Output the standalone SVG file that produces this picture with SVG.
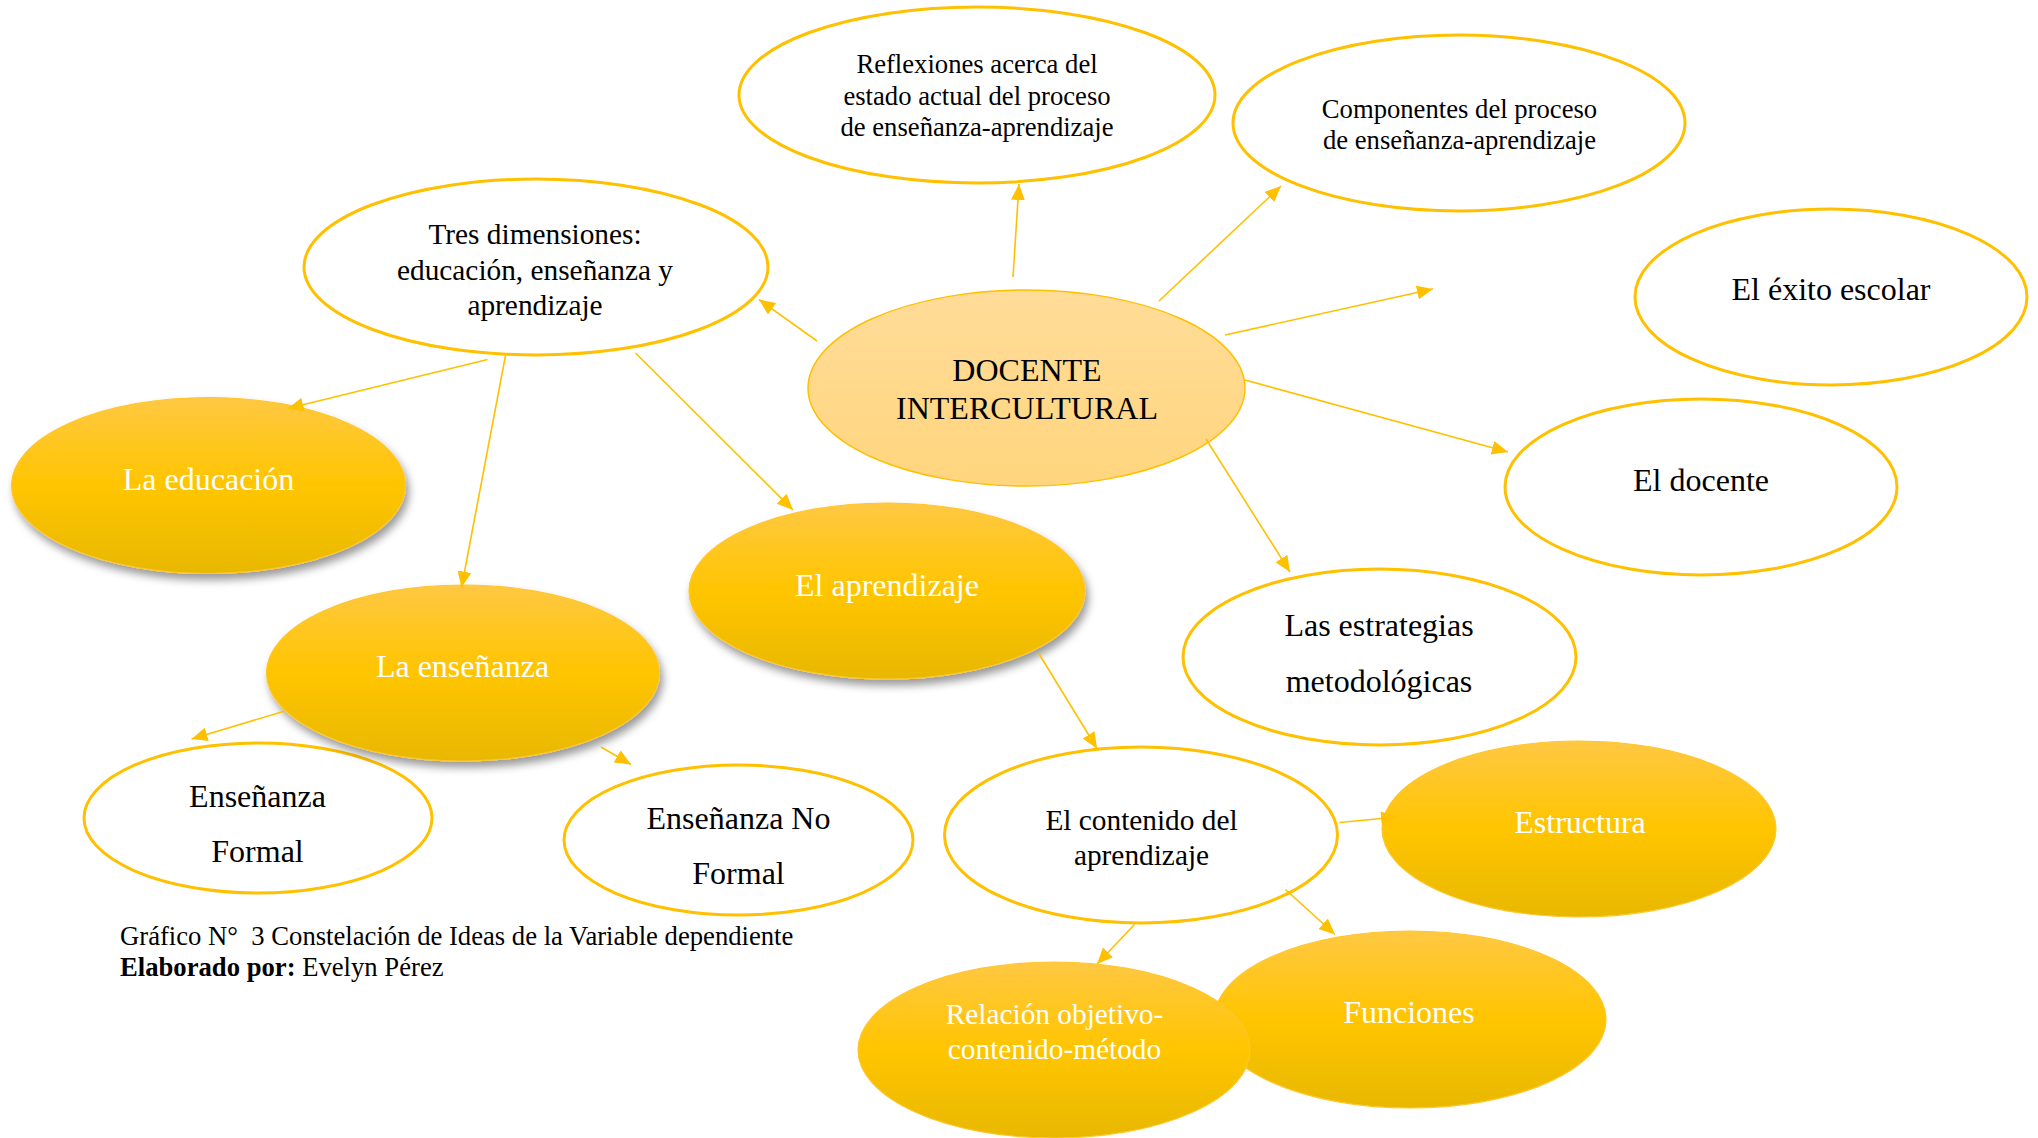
<svg xmlns="http://www.w3.org/2000/svg" width="2038" height="1138" viewBox="0 0 2038 1138">
<defs>
<linearGradient id="gold" x1="0" y1="0" x2="0" y2="1">
<stop offset="0" stop-color="#FFC843"/>
<stop offset="0.5" stop-color="#FFC500"/>
<stop offset="1" stop-color="#E8B800"/>
</linearGradient>
<linearGradient id="light" x1="0" y1="0" x2="0" y2="1">
<stop offset="0" stop-color="#FFDC98"/>
<stop offset="1" stop-color="#FFD57E"/>
</linearGradient>
<filter id="shadow" x="-10%" y="-10%" width="125%" height="130%">
<feDropShadow dx="3" dy="6" stdDeviation="4" flood-color="#000" flood-opacity="0.4"/>
</filter>
<marker id="arr" markerUnits="userSpaceOnUse" markerWidth="18" markerHeight="16" refX="16" refY="7" orient="auto">
<path d="M0,0 L16,7 L0,14 z" fill="#FFC000"/>
</marker>
<style>
.out{fill:#fff;stroke:#FFC000;stroke-width:3}
.fill{fill:url(#gold);stroke:#FFC62A;stroke-width:1.2}
.main{fill:url(#light);stroke:#FFC000;stroke-width:1.5}
.t{font-family:"Liberation Serif","Times New Roman",serif;fill:#000;text-anchor:middle}
.w{font-family:"Liberation Serif","Times New Roman",serif;fill:#fff;text-anchor:middle}
.s20{font-size:26.67px}
.s22{font-size:29.33px}
.s24{font-size:32px}
.cap{font-family:"Liberation Serif","Times New Roman",serif;font-size:26.67px;fill:#000}
.c{stroke:#FFC000;stroke-width:1.6;fill:none;marker-end:url(#arr)}
</style>
</defs>
<rect width="2038" height="1138" fill="#fff"/>

<g id="reflexiones">
<ellipse class="out" cx="977" cy="95" rx="238" ry="88"/>
<text class="t s20" x="977" y="73">Reflexiones acerca del</text>
<text class="t s20" x="977" y="104.5">estado actual del proceso</text>
<text class="t s20" x="977" y="136">de enseñanza-aprendizaje</text>
</g>
<g id="componentes">
<ellipse class="out" cx="1459" cy="123" rx="226" ry="88"/>
<text class="t s20" x="1459.5" y="117.5">Componentes del proceso</text>
<text class="t s20" x="1459.5" y="149">de enseñanza-aprendizaje</text>
</g>
<g id="tres">
<ellipse class="out" cx="536" cy="267" rx="232" ry="88"/>
<text class="t s22" x="535" y="244">Tres dimensiones:</text>
<text class="t s22" x="535" y="279.5">educación, enseñanza y</text>
<text class="t s22" x="535" y="315">aprendizaje</text>
</g>
<g id="exito">
<ellipse class="out" cx="1831" cy="297" rx="196" ry="88"/>
<text class="t s24" x="1831" y="299.5">El éxito escolar</text>
</g>
<g id="eldocente">
<ellipse class="out" cx="1701" cy="487" rx="196" ry="88"/>
<text class="t s24" x="1701" y="490.5">El docente</text>
</g>
<g id="estrategias">
<ellipse class="out" cx="1379.5" cy="657" rx="196.5" ry="88"/>
<text class="t s24" x="1379" y="635.5">Las estrategias</text>
<text class="t s24" x="1379" y="692">metodológicas</text>
</g>
<g id="formal">
<ellipse class="out" cx="258" cy="818" rx="174" ry="75"/>
<text class="t s24" x="257.5" y="806.5">Enseñanza</text>
<text class="t s24" x="257.5" y="861.5">Formal</text>
</g>
<g id="noformal">
<ellipse class="out" cx="738.5" cy="840" rx="174.5" ry="75"/>
<text class="t s24" x="738.5" y="829">Enseñanza No</text>
<text class="t s24" x="738.5" y="884">Formal</text>
</g>
<g id="contenido">
<ellipse class="out" cx="1141" cy="835" rx="196.5" ry="88"/>
<text class="t s22" x="1141.5" y="829.5">El contenido del</text>
<text class="t s22" x="1141.5" y="865">aprendizaje</text>
</g>

<g id="docente-intercultural">
<ellipse class="main" cx="1026.5" cy="388" rx="218.5" ry="98"/>
<text class="t s24" x="1027" y="381">DOCENTE</text>
<text class="t s24" x="1027" y="419">INTERCULTURAL</text>
</g>
<g id="educacion">
<ellipse class="fill" cx="208.5" cy="485.5" rx="197" ry="88" filter="url(#shadow)"/>
<text class="w s24" x="208.5" y="489.5">La educación</text>
</g>
<g id="aprendizaje">
<ellipse class="fill" cx="887" cy="591" rx="198" ry="88" filter="url(#shadow)"/>
<text class="w s24" x="887" y="596">El aprendizaje</text>
</g>
<g id="ensenanza">
<ellipse class="fill" cx="463" cy="673" rx="196.5" ry="88" filter="url(#shadow)"/>
<text class="w s24" x="462.5" y="677">La enseñanza</text>
</g>
<g id="estructura">
<ellipse class="fill" cx="1579" cy="829" rx="197" ry="88"/>
<text class="w s24" x="1580" y="832.5">Estructura</text>
</g>
<g id="funciones">
<ellipse class="fill" cx="1410" cy="1019.5" rx="196" ry="88.5"/>
<text class="w s24" x="1409" y="1023">Funciones</text>
</g>
<g id="relacion">
<ellipse class="fill" cx="1054" cy="1050" rx="196" ry="88"/>
<text class="w s22" x="1054.5" y="1024">Relación objetivo-</text>
<text class="w s22" x="1054.5" y="1059">contenido-método</text>
</g>

<g id="connectors">
<line class="c" x1="1013" y1="277" x2="1019" y2="184"/>
<line class="c" x1="1159" y1="301" x2="1281" y2="186"/>
<line class="c" x1="1225" y1="335" x2="1433" y2="289"/>
<line class="c" x1="1245" y1="380" x2="1508" y2="452"/>
<line class="c" x1="1206" y1="439" x2="1290" y2="572"/>
<line class="c" x1="817" y1="341" x2="759" y2="299.5"/>
<line class="c" x1="487.5" y1="359.5" x2="287.5" y2="408.5"/>
<line class="c" x1="505.5" y1="355.5" x2="461.5" y2="587.5"/>
<line class="c" x1="635.5" y1="353" x2="793" y2="510"/>
<line class="c" x1="285" y1="711" x2="191.5" y2="739"/>
<line class="c" x1="601" y1="747" x2="631" y2="764.5"/>
<line class="c" x1="1038.5" y1="653" x2="1097" y2="748.5"/>
<line class="c" x1="1339.5" y1="822.5" x2="1397" y2="817"/>
<line class="c" x1="1285.5" y1="889.5" x2="1335" y2="934.5"/>
<line class="c" x1="1134.5" y1="924.5" x2="1097" y2="964"/>
</g>

<g id="caption">
<text class="cap" x="120" y="944.5">Gráfico N°&#160; 3 Constelación de Ideas de la Variable dependiente</text>
<text class="cap" x="120" y="976"><tspan font-weight="bold">Elaborado por:</tspan> Evelyn Pérez</text>
</g>
</svg>
